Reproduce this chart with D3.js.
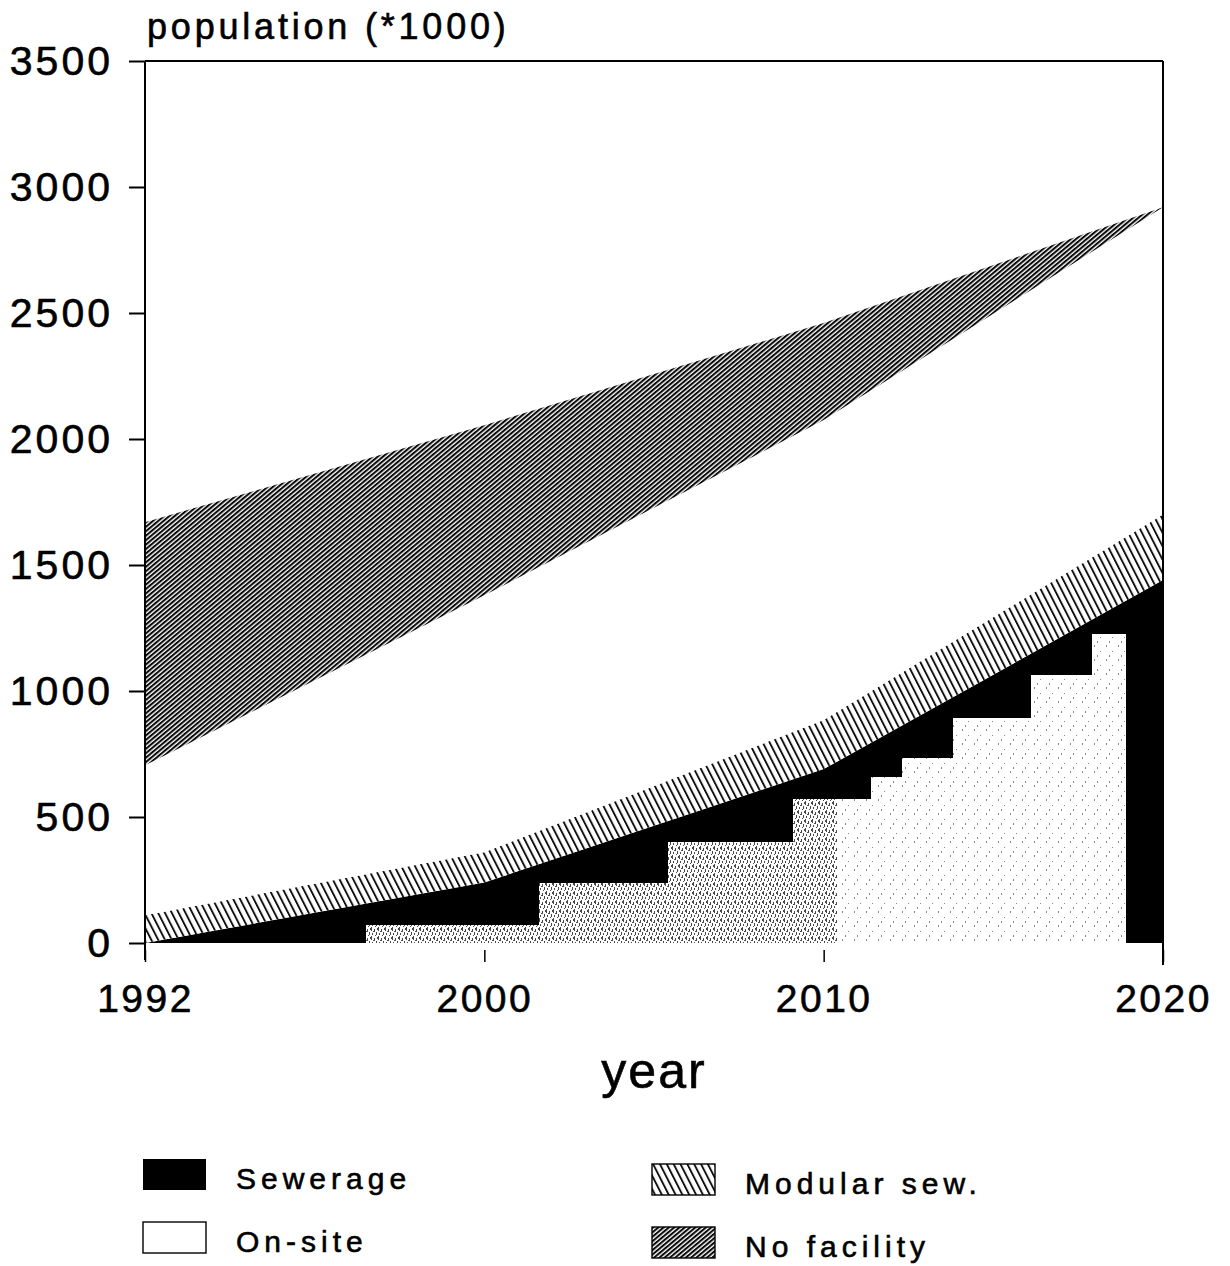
<!DOCTYPE html>
<html>
<head>
<meta charset="utf-8">
<script src="https://cdn.jsdelivr.net/npm/d3@7"></script>
<style>
  html, body { margin: 0; padding: 0; background: #fff; }
  svg { display: block; }
  text { font-family: "Liberation Sans", Arial, Helvetica, sans-serif; fill: #000; stroke: #000; stroke-width: 0.6px; }
</style>
</head>
<body>
<svg id="chart" width="1230" height="1266"></svg>
<script>
// Population served by type of sanitation (thousands)
const years = [1992, 2000, 2010, 2020];
const sewerage = [0, 240, 690, 1440];
const modularSew = [110, 120, 195, 260];
const onSite = [595, 1020, 1190, 1220];
const noFacility = [965, 675, 385, 0];

const seriesNames = ["Sewerage", "Modular sew.", "On-site", "No facility"];
const yTicks = [0, 500, 1000, 1500, 2000, 2500, 3000, 3500];

// Stepped lighter band inside the sewerage area (start year of each stage, level in thousands)
const stageYears = [1997.2, 2001.6, 2005.4, 2009.1, 2010.4, 2011.4, 2012.3, 2013.8, 2016.1, 2017.9, 2018.9];
const stageLevels = [70, 238, 401, 570, 570, 660, 734, 893, 1063, 1226];

const svg = d3.select("#chart");
const plotLeft = 145, plotRight = 1163, plotTop = 61, plotBase = 943;

const x = d3.scalePoint().domain(years).range([plotLeft, plotRight]);
// continuous year position, piecewise between the labelled years
const xYear = d3.scaleLinear().domain(years).range(years.map(d => x(d)));
const y = d3.scaleLinear().domain([0, 3500]).range([plotBase, plotTop]);

// ---- fill patterns ----
const defs = svg.append("defs");
defs.append("pattern")
  .attr("id", "hatchDense")
  .attr("patternUnits", "userSpaceOnUse")
  .attr("width", 3.4).attr("height", 10)
  .attr("patternTransform", "rotate(50)")
  .call(p => {
    p.append("rect").attr("width", 3.4).attr("height", 10).attr("fill", "#fff");
    p.append("rect").attr("width", 2.05).attr("height", 10).attr("fill", "#0a0a0a");
  });
defs.append("pattern")
  .attr("id", "hatchModular")
  .attr("patternUnits", "userSpaceOnUse")
  .attr("width", 6.1).attr("height", 10)
  .attr("patternTransform", "rotate(-27)")
  .call(p => {
    p.append("rect").attr("width", 6.1).attr("height", 10).attr("fill", "#fff");
    p.append("rect").attr("width", 1.9).attr("height", 10).attr("fill", "#111");
  });
defs.append("pattern")
  .attr("id", "stippleDense")
  .attr("patternUnits", "userSpaceOnUse")
  .attr("width", 7).attr("height", 9)
  .call(p => {
    p.append("rect").attr("width", 7).attr("height", 9).attr("fill", "#fff");
    [[0, 0, 1, 4], [3, 2, 1, 3], [5, 5, 1, 3], [1, 6, 1, 2], [4, 8, 1, 1], [6, 1, 1, 2], [2, 4, 1, 1]].forEach(r =>
      p.append("rect").attr("x", r[0]).attr("y", r[1]).attr("width", r[2]).attr("height", r[3]).attr("fill", "#4a4a4a"));
  });
defs.append("pattern")
  .attr("id", "stippleSparse")
  .attr("patternUnits", "userSpaceOnUse")
  .attr("width", 12).attr("height", 14)
  .call(p => {
    p.append("rect").attr("width", 12).attr("height", 14).attr("fill", "#fff");
    [[2, 1, 1, 2], [8, 7, 1, 1], [5, 11, 1, 2]].forEach(r =>
      p.append("rect").attr("x", r[0]).attr("y", r[1]).attr("width", r[2]).attr("height", r[3]).attr("fill", "#8a8a8a"));
  });

const fills = {
  "Sewerage": "#000",
  "Modular sew.": "url(#hatchModular)",
  "On-site": "#fff",
  "No facility": "url(#hatchDense)"
};

// ---- stacked areas ----
const rows = years.map((yr, i) => ({
  year: yr,
  "Sewerage": sewerage[i],
  "Modular sew.": modularSew[i],
  "On-site": onSite[i],
  "No facility": noFacility[i]
}));
const stacked = d3.stack().keys(seriesNames)(rows);

const area = d3.area()
  .x(d => x(d.data.year))
  .y0(d => y(d[0]))
  .y1(d => y(d[1]));

svg.append("g").selectAll("path")
  .data(stacked)
  .join("path")
  .attr("d", area)
  .attr("fill", d => fills[d.key])
  .attr("stroke", "none");

// ---- stepped band within the sewerage area ----
const stages = stageLevels.map((lv, i) => ({ start: stageYears[i], end: stageYears[i + 1], level: lv }));
svg.append("g").attr("shape-rendering", "crispEdges").selectAll("rect")
  .data(stages)
  .join("rect")
  .attr("x", d => Math.round(xYear(d.start)))
  .attr("width", d => Math.round(xYear(d.end)) - Math.round(xYear(d.start)))
  .attr("y", d => Math.round(y(d.level)))
  .attr("height", d => Math.round(y(0)) - Math.round(y(d.level)))
  .attr("fill", d => d.start < 2010 ? "url(#stippleDense)" : "url(#stippleSparse)");

// ---- frame ----
const frame = svg.append("g").attr("stroke", "#000").attr("fill", "none");
frame.append("line").attr("x1", plotLeft).attr("x2", plotRight).attr("y1", y(3500)).attr("y2", y(3500)).attr("stroke-width", 2);
frame.append("line").attr("x1", plotLeft).attr("x2", plotLeft).attr("y1", y(3500)).attr("y2", 960).attr("stroke-width", 2);
frame.append("line").attr("x1", plotRight).attr("x2", plotRight).attr("y1", y(3500)).attr("y2", 965).attr("stroke-width", 2);

// ---- y axis ----
const yAxis = svg.append("g")
  .attr("transform", `translate(${plotLeft},0)`)
  .call(d3.axisLeft(y).tickValues(yTicks).tickSize(16).tickPadding(16).tickFormat(d3.format("d")));
yAxis.select(".domain").remove();
yAxis.selectAll(".tick line").attr("stroke", "#000").attr("stroke-width", 2);
yAxis.selectAll(".tick text")
  .attr("font-size", 41)
  .attr("letter-spacing", "3px")
  .attr("font-family", "Liberation Sans, Arial, sans-serif")
  .attr("fill", "#000");

// ---- x axis ----
const xAxis = svg.append("g")
  .attr("transform", `translate(0,950)`)
  .call(d3.axisBottom(x).tickSize(12).tickFormat(d3.format("d")));
xAxis.select(".domain").remove();
xAxis.selectAll(".tick line").attr("stroke", "#000").attr("stroke-width", 1.5);
xAxis.selectAll(".tick text")
  .attr("y", 62).attr("dy", 0)
  .attr("font-size", 39)
  .attr("letter-spacing", "2.5px")
  .attr("font-family", "Liberation Sans, Arial, sans-serif")
  .attr("fill", "#000");

// ---- titles ----
svg.append("text")
  .attr("x", 147).attr("y", 39)
  .attr("font-size", 36)
  .attr("letter-spacing", "3.8px")
  .text("population (*1000)");
svg.append("text")
  .attr("x", 654).attr("y", 1088)
  .attr("text-anchor", "middle")
  .attr("font-size", 50)
  .attr("letter-spacing", "2px")
  .text("year");

// ---- legend ----
const legendItems = [
  { name: "Sewerage", col: 0, row: 0 },
  { name: "On-site", col: 0, row: 1 },
  { name: "Modular sew.", col: 1, row: 0 },
  { name: "No facility", col: 1, row: 1 }
];
const legend = svg.append("g");
const lg = legend.selectAll("g")
  .data(legendItems)
  .join("g")
  .attr("transform", d => `translate(${d.col ? 652 : 143},${(d.col ? 1164 : 1159) + d.row * 63})`);
lg.append("rect")
  .attr("width", 63).attr("height", 31)
  .attr("fill", d => fills[d.name])
  .attr("stroke", "#000")
  .attr("stroke-width", d => d.name === "Sewerage" ? 0 : 1.4);
lg.append("text")
  .attr("x", 93).attr("y", 30)
  .attr("font-size", 30)
  .attr("letter-spacing", "5px")
  .text(d => d.name);
</script>
</body>
</html>
